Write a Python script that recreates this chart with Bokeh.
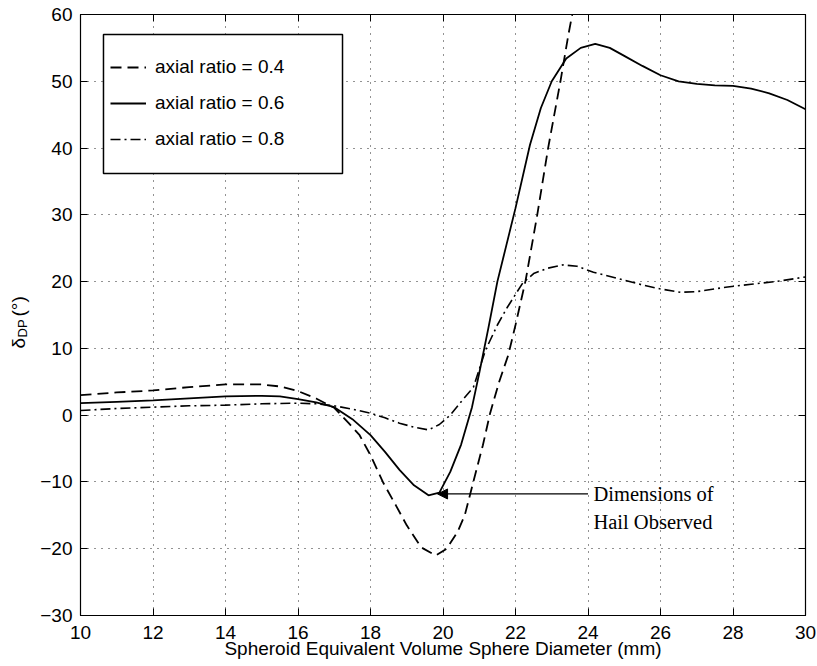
import math
from bokeh.plotting import figure
from bokeh.layouts import row
from bokeh.core.properties import value
from bokeh.models import (Range1d, LinearAxis, SingleIntervalTicker, Legend, LegendItem,
                          BoxAnnotation, Label, Arrow, NormalHead)
from bokeh.embed import file_html
from bokeh.resources import INLINE

# ---- data ----
x_04 = [10, 11, 12, 13, 14, 15, 15.5, 16, 16.5, 17, 17.4, 17.7, 18.0, 18.36, 18.7, 19.0,
        19.4, 19.8, 20.1, 20.4, 20.6, 20.85, 21.1, 21.3, 21.55, 21.8, 22.0, 22.28, 22.6,
        22.9, 23.24, 23.46, 23.6, 23.8]
y_04 = [3.0, 3.4, 3.7, 4.2, 4.6, 4.6, 4.3, 3.6, 2.5, 1.1, -1.2, -3.0, -6.0, -10.2, -13.5,
        -16.5, -19.8, -21.0, -20.0, -17.5, -15.0, -9.7, -4.5, 0.3, 5.0, 9.0, 13.5, 20.2,
        30.0, 40.0, 50.0, 57.0, 61.0, 66.0]

x_06 = [10, 11, 12, 13, 14, 15, 15.5, 16, 16.5, 17, 17.5, 18, 18.4, 18.8, 19.2, 19.6, 19.9,
        20.2, 20.5, 20.8, 21.0, 21.25, 21.5, 21.75, 22.0, 22.4, 22.7, 23.0, 23.4, 23.8, 24.2,
        24.6, 25.0, 25.5, 26.0, 26.5, 27.0, 27.5, 28.0, 28.5, 29.0, 29.5, 30.0]
y_06 = [1.8, 2.0, 2.2, 2.5, 2.8, 2.9, 2.8, 2.4, 1.9, 1.2, -0.6, -3.0, -5.5, -8.2, -10.5,
        -12.0, -11.6, -8.5, -4.4, 1.2, 6.3, 13.0, 20.0, 25.5, 31.0, 40.5, 46.0, 50.0, 53.4,
        55.0, 55.6, 55.0, 53.8, 52.3, 50.9, 50.0, 49.6, 49.4, 49.3, 48.9, 48.2, 47.2, 45.8]

x_08 = [10, 11, 12, 13, 14, 15, 16, 16.5, 17, 17.5, 18, 18.4, 18.8, 19.2, 19.6, 19.9, 20.2,
        20.5, 20.84, 21.17, 21.5, 21.78, 22.2, 22.5, 22.88, 23.3, 23.7, 24.15, 24.8, 25.5,
        26.0, 26.55, 27.0, 27.85, 28.5, 29.3, 30.0]
y_08 = [0.7, 1.0, 1.2, 1.4, 1.5, 1.7, 1.8, 1.7, 1.4, 0.9, 0.3, -0.4, -1.2, -1.8, -2.2, -1.4,
        0.0, 2.0, 4.2, 9.7, 13.5, 16.2, 19.8, 21.2, 22.0, 22.5, 22.3, 21.4, 20.5, 19.5, 18.9,
        18.4, 18.5, 19.2, 19.6, 20.1, 20.7]

labels = ["axial ratio = 0.4", "axial ratio = 0.6", "axial ratio = 0.8"]
x_ticks_interval = 2
y_ticks_interval = 10
x_lim = (10, 30)
y_lim = (-30, 60)
x_title = "Spheroid Equivalent Volume Sphere Diameter (mm)"
y_title_parts = ["δ", "DP", "(°)"]

# annotation positions (data units)
arrow_start = (24.0, -11.8)
arrow_end = (19.85, -11.8)
note_x = 24.15
note_lines = [("Dimensions of", -11.8), ("Hail Observed", -16.0)]
legend_box = dict(left=10.634, right=17.228, top=57.0, bottom=36.2)

FONT = "Liberation Sans"
SIDE_W = 30

# ---- narrow strip holding the rotated y-axis title (pixel coordinates) ----
side = figure(frame_width=SIDE_W, frame_height=615, x_range=Range1d(0, SIDE_W),
              y_range=Range1d(615, 0), output_backend="svg", toolbar_location=None,
              min_border=0, x_axis_location=None, y_axis_location=None,
              background_fill_color="white", border_fill_color="white")
side.outline_line_color = None
side.grid.visible = False
side.text(x=[18], y=[334], text=[y_title_parts[0]], angle=math.pi / 2,
          text_font=value(FONT), text_font_size="19px", text_align="left",
          text_baseline="middle", text_color="black")
side.text(x=[22], y=[323], text=[y_title_parts[1]], angle=math.pi / 2,
          text_font=value(FONT), text_font_size="13px", text_align="left",
          text_baseline="middle", text_color="black")
side.text(x=[18], y=[302], text=[y_title_parts[2]], angle=math.pi / 2,
          text_font=value(FONT), text_font_size="19px", text_align="left",
          text_baseline="middle", text_color="black")

# ---- main chart ----
p = figure(frame_width=725, frame_height=601,
           x_range=Range1d(*x_lim), y_range=Range1d(*y_lim),
           output_backend="svg", toolbar_location=None,
           min_border_left=80 - SIDE_W, min_border_top=14, min_border_right=12,
           min_border_bottom=0,
           background_fill_color="white", border_fill_color="white")
p.outline_line_color = "black"
p.outline_line_width = 1.2

p.xaxis.ticker = SingleIntervalTicker(interval=x_ticks_interval)
p.yaxis.ticker = SingleIntervalTicker(interval=y_ticks_interval)
for ax in (p.xaxis[0], p.yaxis[0]):
    ax.major_tick_in = 7
    ax.major_tick_out = 0
    ax.minor_tick_line_color = None
    ax.axis_line_color = "black"
    ax.major_tick_line_color = "black"
    ax.major_label_text_font = FONT
    ax.major_label_text_font_size = "19px"
    ax.major_label_text_color = "black"
p.xaxis.major_label_standoff = 6
p.yaxis.major_label_standoff = 4
p.xaxis.axis_label = x_title
p.xaxis.axis_label_text_font = FONT
p.xaxis.axis_label_text_font_size = "19px"
p.xaxis.axis_label_text_font_style = "normal"
p.xaxis.axis_label_text_color = "black"
p.xaxis.axis_label_standoff = -4

top_ticks = list(range(x_lim[0], x_lim[1] + 1, x_ticks_interval))
right_ticks = list(range(y_lim[0], y_lim[1] + 1, y_ticks_interval))
top = LinearAxis(ticker=SingleIntervalTicker(interval=x_ticks_interval),
                 major_label_overrides={t: "" for t in top_ticks},
                 major_tick_in=7, major_tick_out=0, minor_tick_line_color=None,
                 major_label_standoff=0, axis_line_color="black")
right = LinearAxis(ticker=SingleIntervalTicker(interval=y_ticks_interval),
                   major_label_overrides={t: "" for t in right_ticks},
                   major_tick_in=7, major_tick_out=0, minor_tick_line_color=None,
                   major_label_standoff=0, axis_line_color="black")
p.add_layout(top, "above")
p.add_layout(right, "right")

for g in (p.xgrid[0], p.ygrid[0]):
    g.grid_line_color = "black"
    g.grid_line_dash = "1 6"
    g.grid_line_width = 1
    g.grid_line_alpha = 0.85

r4 = p.line(x_04, y_04, line_color="black", line_width=1.8, line_dash="11 6")
r6 = p.line(x_06, y_06, line_color="black", line_width=1.8)
r8 = p.line(x_08, y_08, line_color="black", line_width=1.6, line_dash="10 4 2 4")

box = BoxAnnotation(**legend_box, fill_color="white", fill_alpha=1.0,
                    line_color="black", line_width=1.5, line_alpha=1.0)
p.add_layout(box)

legend = Legend(items=[LegendItem(label=labels[0], renderers=[r4]),
                       LegendItem(label=labels[1], renderers=[r6]),
                       LegendItem(label=labels[2], renderers=[r8])],
                location=(30, 465), padding=0, spacing=14, margin=0,
                glyph_width=36, glyph_height=20, label_height=20, label_standoff=9,
                border_line_alpha=0, background_fill_alpha=0,
                label_text_font=FONT, label_text_font_size="19px", label_text_color="black")
p.add_layout(legend)

p.add_layout(Arrow(end=NormalHead(size=10, fill_color="black", line_color="black"),
                   x_start=arrow_start[0], y_start=arrow_start[1],
                   x_end=arrow_end[0], y_end=arrow_end[1],
                   line_color="black", line_width=1.3))
for txt, yy in note_lines:
    p.add_layout(Label(x=note_x, y=yy, text=txt, text_font="Liberation Serif",
                       text_font_size="20.5px", text_baseline="middle", text_align="left",
                       text_color="black"))

layout = row(side, p, spacing=0)
open("out.html", "w").write(file_html(layout, INLINE))
